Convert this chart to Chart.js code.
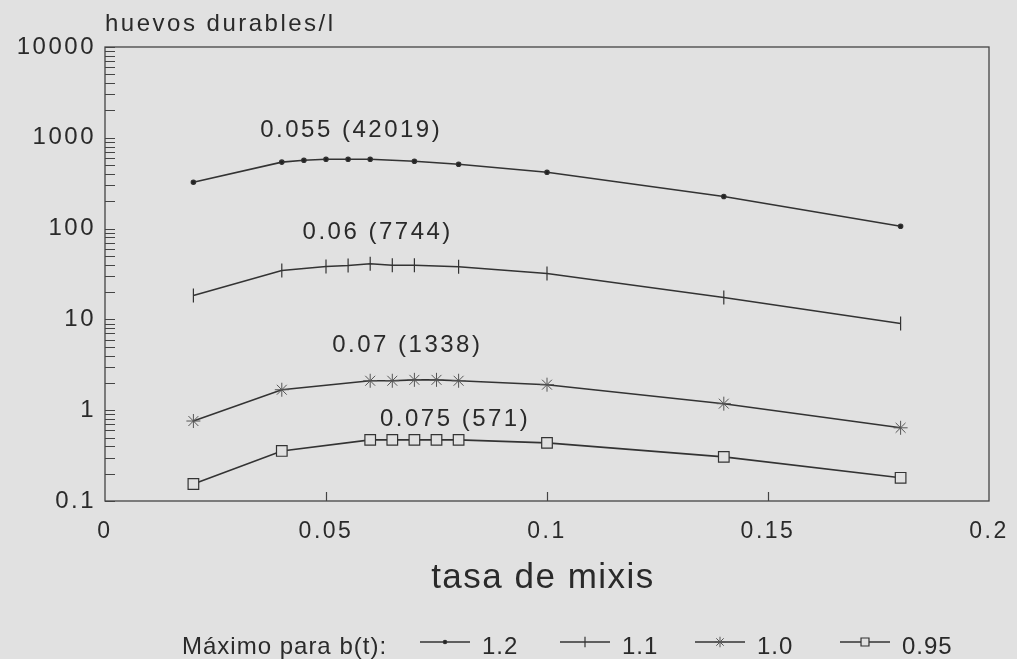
<!DOCTYPE html>
<html>
<head>
<meta charset="utf-8">
<script src="https://cdn.jsdelivr.net/npm/chart.js@4/dist/chart.umd.min.js"></script>
<style>
  html, body { margin: 0; padding: 0; background: #e1e1e1; }
  #wrap { width: 1017px; height: 659px; position: relative; }
</style>
</head>
<body>
<div id="wrap"><canvas id="myChart"></canvas></div>
<script>
// tasa de mixis (x) for each curve
const mixRate12 = [0.02, 0.04, 0.045, 0.05, 0.055, 0.06, 0.07, 0.08, 0.1, 0.14, 0.18];
const mixRate11 = [0.02, 0.04, 0.05, 0.055, 0.06, 0.065, 0.07, 0.08, 0.1, 0.14, 0.18];
const mixRate10 = [0.02, 0.04, 0.06, 0.065, 0.07, 0.075, 0.08, 0.1, 0.14, 0.18];
const mixRate095 = [0.02, 0.04, 0.06, 0.065, 0.07, 0.075, 0.08, 0.1, 0.14, 0.18];

// huevos durables/l
const eggs12 = [324, 540, 566, 580, 580, 580, 552, 511, 417, 226, 106];
const eggs11 = [18.3, 34.6, 38.3, 39.2, 41, 39.5, 39.5, 38, 32, 17.4, 9.0];
const eggs10 = [0.76, 1.68, 2.11, 2.11, 2.16, 2.16, 2.11, 1.91, 1.18, 0.64];
const eggs095 = [0.154, 0.356, 0.471, 0.471, 0.471, 0.471, 0.471, 0.437, 0.306, 0.18];

const seriesLabels = ['1.2', '1.1', '1.0', '0.95'];

const xTickValues = [0, 0.05, 0.1, 0.15, 0.2];
const xTickLabels = ['0', '0.05', '0.1', '0.15', '0.2'];
const yTickValues = [0.1, 1, 10, 100, 1000, 10000];
const yTickLabels = ['0.1', '1', '10', '100', '1000', '10000'];

// optimum labels next to each curve: text, x, y (data units)
const peakLabels = ['0.055 (42019)', '0.06 (7744)', '0.07 (1338)', '0.075 (571)'];
const peakLabelX = [0.0557, 0.0617, 0.0684, 0.0792];
const peakLabelY = [1219, 92, 5.2, 0.80];

const ink = '#2a2a2a';
const bg = '#e1e1e1';
const FONT = "'Liberation Sans', Arial, sans-serif";

const toPoints = (xs, ys) => xs.map((x, i) => ({ x: x, y: ys[i] }));

const framePlugin = {
    id: 'frame',
    beforeDraw(chart) {
        chart.ctx.letterSpacing = '2.5px';
    },
    afterDraw(chart) {
        const ctx = chart.ctx;
        const a = chart.chartArea;
        const xs = chart.scales.x;
        const ys = chart.scales.y;
        ctx.save();
        ctx.strokeStyle = '#444';
        ctx.lineWidth = 1.3;
        ctx.strokeRect(a.left, a.top, a.right - a.left, a.bottom - a.top);

        // log ticks inside the left edge
        ctx.lineWidth = 1.2;
        ctx.beginPath();
        for (let d = 0.1; d < 10000; d *= 10) {
            for (let m = 1; m <= 9; m++) {
                const py = Math.round(ys.getPixelForValue(m * d)) + 0.5;
                ctx.moveTo(a.left, py);
                ctx.lineTo(a.left + 10, py);
            }
        }
        const pt = Math.round(ys.getPixelForValue(10000)) + 0.5;
        ctx.moveTo(a.left, pt);
        ctx.lineTo(a.left + 10, pt);
        // x ticks inside the bottom edge
        xTickValues.slice(1, -1).forEach(v => {
            const px = Math.round(xs.getPixelForValue(v)) + 0.5;
            ctx.moveTo(px, a.bottom);
            ctx.lineTo(px, a.bottom - 9);
        });
        ctx.stroke();

        ctx.fillStyle = ink;
        ctx.letterSpacing = '2.5px';
        ctx.font = '24px ' + FONT;
        ctx.textBaseline = 'middle';

        // y title
        ctx.textAlign = 'left';
        ctx.fillText('huevos durables/l', 105, 24);

        // peak labels
        ctx.textAlign = 'center';
        peakLabels.forEach((t, i) => {
            ctx.fillText(t, xs.getPixelForValue(peakLabelX[i]), ys.getPixelForValue(peakLabelY[i]));
        });

        // x title
        ctx.letterSpacing = '1.5px';
        ctx.font = '35px ' + FONT;
        ctx.textBaseline = 'alphabetic';
        ctx.fillText('tasa de mixis', 543, 588);

        // legend
        ctx.letterSpacing = '1px';
        ctx.font = '24px ' + FONT;
        ctx.textAlign = 'left';
        ctx.textBaseline = 'middle';
        ctx.fillText('Máximo para b(t):', 182, 647);
        const starts = [420, 560, 695, 840];
        chart.data.datasets.forEach((ds, i) => {
            const x0 = starts[i];
            const ly = 642;
            ctx.strokeStyle = ds.borderColor;
            ctx.lineWidth = ds.borderWidth;
            ctx.beginPath();
            ctx.moveTo(x0, ly);
            ctx.lineTo(x0 + 50, ly);
            ctx.stroke();
            ctx.fillStyle = ds.pointBackgroundColor;
            ctx.strokeStyle = ds.pointBorderColor;
            ctx.lineWidth = ds.pointBorderWidth;
            Chart.helpers.drawPoint(ctx, {
                pointStyle: ds.pointStyle,
                rotation: ds.pointRotation || 0,
                radius: ds.pointRadius * 0.75,
                borderWidth: ds.pointBorderWidth
            }, x0 + 25, ly);
            ctx.fillStyle = ink;
            ctx.fillText(ds.label, x0 + 62, 647);
        });
        ctx.restore();
    }
};

const baseSet = {
    borderColor: '#333',
    borderWidth: 1.6,
    pointBorderColor: '#333',
    pointBorderWidth: 1.2,
    tension: 0,
    fill: false
};

new Chart(document.getElementById('myChart'), {
    type: 'line',
    data: {
        datasets: [
            Object.assign({}, baseSet, {
                label: seriesLabels[0],
                data: toPoints(mixRate12, eggs12),
                pointStyle: 'circle',
                pointRadius: 2.2,
                pointBackgroundColor: '#222'
            }),
            Object.assign({}, baseSet, {
                label: seriesLabels[1],
                data: toPoints(mixRate11, eggs11),
                pointStyle: 'line',
                pointRotation: 90,
                pointRadius: 7,
                pointBackgroundColor: '#333'
            }),
            Object.assign({}, baseSet, {
                label: seriesLabels[2],
                data: toPoints(mixRate10, eggs10),
                pointStyle: 'star',
                pointRadius: 7,
                pointBorderWidth: 1,
                pointBorderColor: '#555',
                pointBackgroundColor: '#555'
            }),
            Object.assign({}, baseSet, {
                label: seriesLabels[3],
                data: toPoints(mixRate095, eggs095),
                pointStyle: 'rect',
                pointRadius: 7.5,
                pointBackgroundColor: bg
            })
        ]
    },
    options: {
        responsive: true,
        maintainAspectRatio: false,
        animation: false,
        layout: { padding: { top: 47, right: 28, bottom: 0, left: 0 } },
        plugins: {
            legend: { display: false },
            tooltip: { enabled: false }
        },
        scales: {
            x: {
                type: 'linear',
                min: 0,
                max: 0.2,
                afterBuildTicks: s => { s.ticks = xTickValues.map(v => ({ value: v })); },
                afterFit: s => { s.height = 158; s.paddingLeft = 0; s.paddingRight = 0; },
                grid: { display: false, drawTicks: false },
                border: { display: false },
                ticks: {
                    autoSkip: false,
                    maxRotation: 0,
                    padding: 17,
                    color: ink,
                    font: { family: FONT, size: 23 },
                    callback: (v, i) => xTickLabels[i]
                }
            },
            y: {
                type: 'logarithmic',
                min: 0.1,
                max: 10000,
                afterBuildTicks: s => { s.ticks = yTickValues.map(v => ({ value: v })); },
                afterFit: s => { s.width = 105; s.paddingTop = 0; s.paddingBottom = 0; },
                grid: { display: false, drawTicks: false },
                border: { display: false },
                ticks: {
                    autoSkip: false,
                    padding: 9,
                    color: ink,
                    font: { family: FONT, size: 24 },
                    callback: (v, i) => yTickLabels[i]
                }
            }
        }
    },
    plugins: [framePlugin]
});
</script>
</body>
</html>
